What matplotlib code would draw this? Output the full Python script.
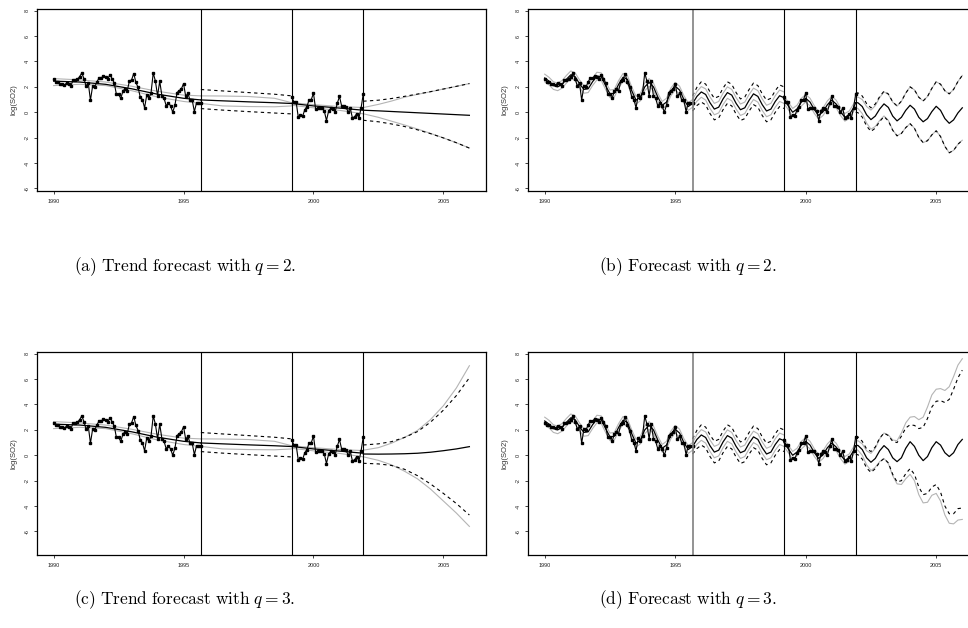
import numpy as np
import matplotlib
matplotlib.use("Agg")
import matplotlib.pyplot as plt

plt.rcParams['font.family'] = ['Liberation Sans', 'DejaVu Sans']
plt.rcParams['mathtext.fontset'] = 'cm'

# observed log(SO2), monthly
obs1_start = 1990.0
obs1 = [2.58, 2.42, 2.35, 2.2, 2.2, 2.15, 2.3, 2.25, 2.1, 2.55,
        2.55, 2.6, 2.8, 3.1, 2.65, 2.05, 2.3, 0.95, 2.05, 2.0,
        2.4, 2.7, 2.7, 2.85, 2.75, 2.65, 2.95, 2.65, 2.3, 1.4,
        1.4, 1.1, 1.65, 1.85, 1.7, 2.45, 2.55, 3.05, 2.35, 1.95,
        1.2, 1.0, 0.35, 1.35, 1.1, 1.55, 3.1, 2.45, 1.3, 2.45,
        1.3, 1.1, 0.5, 0.75, 0.5, 0.0, 0.55, 1.55, 1.7, 1.85,
        2.25, 1.25, 1.5, 0.95, 0.95, 0.05, 0.75, 0.7, 0.7]
obs2_start = 1999 + 2 / 12
obs2 = [1.2, 0.8, 0.8, -0.4, -0.2, -0.3, 0.2, 0.45, 1.0, 1.0,
        1.5, 0.25, 0.3, 0.3, 0.3, 0.1, -0.65, 0.1, 0.3, 0.25,
        0.05, 0.7, 1.25, 0.5, 0.5, 0.45, 0.0, 0.3, -0.45, -0.35,
        -0.1, -0.45, 0.35, 1.45]

breaks = [1995.67, 1999.17, 2001.92]

# ---- trend model (panels a, c) ----
tr1_x = [1990, 1991, 1992, 1993, 1994, 1995, 1995.667]
tr1 = [2.45, 2.38, 2.2, 1.85, 1.42, 1.1, 0.97]
tr1_hi = [2.65, 2.55, 2.38, 2.05, 1.65, 1.35, 1.29]
tr1_lo = [2.1, 2.2, 2.1, 1.7, 1.2, 0.85, 0.7]

trg_x = [1995.667, 1996.5, 1997.5, 1998.5, 1999.167]
trg = [0.97, 0.9, 0.82, 0.75, 0.69]
trg_hi = [1.29, 1.28, 1.24, 1.1, 0.75]
trg_lo = [0.7, 0.5, 0.45, 0.43, 0.5]
trg_dhi = [1.79, 1.68, 1.55, 1.42, 1.29]
trg_dlo = [0.29, 0.17, 0.05, -0.06, -0.13]

tr2_x = [1999.167, 2000, 2001, 2001.917]
tr2 = [0.69, 0.5, 0.33, 0.16]
tr2_hi = [0.75, 0.6, 0.45, 0.37]
tr2_lo = [0.55, 0.35, 0.15, -0.12]

trf_x = [2001.917, 2002.5, 2003, 2003.5, 2004, 2004.5, 2005, 2005.5, 2006]
trf_q2 = [0.16, 0.11, 0.06, 0.01, -0.04, -0.09, -0.14, -0.19, -0.24]
trf_q2_dhi = [0.87, 0.95, 1.08, 1.25, 1.43, 1.62, 1.83, 2.04, 2.26]
trf_q2_dlo = [-0.63, -0.75, -0.92, -1.12, -1.38, -1.68, -2.02, -2.4, -2.82]
trf_q2_hi = [0.37, 0.62, 0.88, 1.18, 1.41, 1.61, 1.83, 2.04, 2.26]
trf_q2_lo = [-0.12, -0.4, -0.7, -1.0, -1.32, -1.66, -2.02, -2.4, -2.82]
trf_q3 = [0.1, 0.09, 0.1, 0.12, 0.16, 0.24, 0.36, 0.5, 0.68]
trf_q3_dhi = [0.81, 0.9, 1.07, 1.4, 1.86, 2.6, 3.55, 4.7, 6.1]
trf_q3_dlo = [-0.63, -0.68, -0.8, -1.1, -1.6, -2.25, -3.0, -3.8, -4.7]
trf_q3_hi = [0.4, 0.6, 0.95, 1.4, 1.95, 2.8, 3.9, 5.3, 7.05]
trf_q3_lo = [-0.12, -0.4, -0.75, -1.25, -1.85, -2.65, -3.6, -4.55, -5.6]

# ---- full model (panels b, d), every two months ----
fit1_x = 1990 + np.arange(35) / 6
fit1 = [2.7, 2.45, 2.1, 2.0, 2.2, 2.6, 2.95, 2.8, 2.25, 1.8, 1.85, 2.4,
        2.85, 2.8, 2.1, 1.45, 1.5, 2.2, 2.75, 2.6, 1.7, 0.95, 1.2, 2.0,
        2.35, 2.0, 1.2, 0.55, 0.8, 1.6, 2.05, 1.75, 1.0, 0.45, 0.7]
fit1_hi = [3.0, 2.75, 2.4, 2.3, 2.5, 2.9, 3.25, 3.1, 2.55, 2.1, 2.15, 2.7,
           3.15, 3.1, 2.4, 1.75, 1.8, 2.5, 3.05, 2.9, 2.0, 1.25, 1.5, 2.3,
           2.65, 2.3, 1.5, 0.85, 1.1, 1.9, 2.35, 2.05, 1.3, 0.75, 1.0]
fit1_lo = [2.4, 2.15, 1.8, 1.7, 1.9, 2.3, 2.65, 2.5, 1.95, 1.5, 1.55, 2.1,
           2.55, 2.5, 1.8, 1.15, 1.2, 1.9, 2.45, 2.3, 1.4, 0.65, 0.9, 1.7,
           2.05, 1.7, 0.9, 0.25, 0.5, 1.3, 1.75, 1.45, 0.7, 0.15, 0.4]

gap_x = 1995 + np.arange(4, 26) / 6
gap = [0.7, 1.25, 1.6, 1.4, 0.75, 0.25, 0.4, 1.05, 1.55, 1.35, 0.7,
       0.2, 0.35, 0.95, 1.45, 1.25, 0.6, 0.1, 0.25, 0.85, 1.3, 1.15]
gap_hi = [1.0, 1.63, 2.02, 1.84, 1.2, 0.7, 0.85, 1.5, 2.0, 1.8, 1.15,
          0.65, 0.8, 1.4, 1.9, 1.7, 1.05, 0.55, 0.7, 1.3, 1.75, 1.6]
gap_lo = [0.4, 0.87, 1.18, 0.96, 0.3, -0.2, -0.05, 0.6, 1.1, 0.9, 0.25,
          -0.25, -0.1, 0.5, 1.0, 0.8, 0.15, -0.35, -0.2, 0.4, 0.85, 0.7]
gap_dhi = [1.3, 1.97, 2.4, 2.22, 1.6, 1.1, 1.25, 1.9, 2.4, 2.2, 1.55,
           1.05, 1.2, 1.8, 2.3, 2.1, 1.45, 0.95, 1.1, 1.7, 2.15, 2.0]
gap_dlo = [0.1, 0.53, 0.8, 0.58, -0.1, -0.6, -0.45, 0.2, 0.7, 0.5, -0.15,
           -0.65, -0.5, 0.1, 0.6, 0.4, -0.25, -0.75, -0.6, 0.0, 0.45, 0.3]

fit2_x = np.append(1999 + np.arange(1, 18) / 6, 2001 + 11 / 12)
fit2 = [1.0, 0.5, 0.0, 0.25, 0.8, 1.1, 0.8, 0.2, -0.25, 0.05, 0.6, 0.95,
        0.65, 0.05, -0.4, -0.2, 0.35, 0.75]
fit2_hi = [1.3, 0.8, 0.3, 0.55, 1.1, 1.4, 1.1, 0.5, 0.05, 0.35, 0.9, 1.25,
           0.95, 0.35, -0.1, 0.1, 0.65, 1.05]
fit2_lo = [0.7, 0.2, -0.3, -0.05, 0.5, 0.8, 0.5, -0.1, -0.55, -0.25, 0.3,
           0.65, 0.35, -0.25, -0.7, -0.5, 0.05, 0.45]

fin_x = np.append(2001 + 11 / 12, 2002 + np.arange(25) / 6)
fin_q2 = [0.75, 0.75, 0.45, -0.2, -0.58, -0.3, 0.25, 0.66, 0.38, -0.3, -0.68,
          -0.4, 0.15, 0.55, 0.25, -0.4, -0.75, -0.5, 0.05, 0.47, 0.15, -0.5,
          -0.87, -0.6, -0.05, 0.35]
fin_q2_dhi = [1.5, 1.53, 1.28, 0.68, 0.35, 0.65, 1.23, 1.66, 1.44, 0.82, 0.5,
              0.87, 1.51, 2.0, 1.76, 1.18, 0.89, 1.24, 1.88, 2.4, 2.21, 1.69,
              1.45, 1.8, 2.42, 2.9]
fin_q2_dlo = [0.0, -0.03, -0.38, -1.08, -1.51, -1.25, -0.73, -0.34, -0.68,
              -1.42, -1.86, -1.67, -1.21, -0.9, -1.26, -1.98, -2.39, -2.24,
              -1.78, -1.46, -1.91, -2.69, -3.19, -3.0, -2.52, -2.2]
fin_q2_hi = [1.15, 1.2, 1.0, 0.45, 0.17, 0.52, 1.15, 1.61, 1.4, 0.8, 0.48,
             0.86, 1.51, 2.0, 1.76, 1.18, 0.89, 1.24, 1.88, 2.4, 2.21, 1.69,
             1.45, 1.8, 2.42, 2.9]
fin_q2_lo = [0.35, 0.3, -0.1, -0.85, -1.33, -1.12, -0.65, -0.29, -0.64, -1.4,
             -1.84, -1.66, -1.21, -0.9, -1.26, -1.98, -2.39, -2.24, -1.78,
             -1.46, -1.91, -2.69, -3.19, -3.0, -2.52, -2.2]

fin_q3 = [0.76, 0.78, 0.45, -0.2, -0.55, -0.25, 0.35, 0.76, 0.45, -0.2, -0.5,
          -0.2, 0.55, 1.07, 0.7, 0.0, -0.42, -0.1, 0.6, 1.07, 0.8, 0.2, -0.1,
          0.2, 0.85, 1.25]
fin_q3_dhi = [1.45, 1.45, 1.1, 0.5, 0.3, 0.65, 1.35, 1.75, 1.55, 1.1, 1.0,
              1.5, 2.15, 2.4, 2.35, 2.1, 2.2, 2.9, 3.8, 4.25, 4.3, 4.15, 4.4,
              5.2, 6.1, 6.7]
fin_q3_dlo = [0.05, 0.05, -0.3, -1.0, -1.35, -1.05, -0.55, -0.25, -0.6, -1.5,
              -2.1, -2.0, -1.45, -1.05, -1.5, -2.5, -3.1, -3.0, -2.5, -2.3,
              -2.9, -4.0, -4.6, -4.6, -4.2, -4.15]
fin_q3_hi = [1.1, 1.15, 0.9, 0.35, 0.15, 0.55, 1.3, 1.75, 1.6, 1.2, 1.15,
             1.75, 2.55, 3.0, 3.05, 2.8, 3.0, 3.8, 4.75, 5.2, 5.25, 5.1, 5.4,
             6.2, 7.1, 7.6]
fin_q3_lo = [0.45, 0.4, 0.0, -0.75, -1.2, -0.95, -0.5, -0.25, -0.65, -1.6,
             -2.25, -2.3, -1.85, -1.5, -2.0, -3.1, -3.75, -3.7, -3.15, -3.0,
             -3.6, -4.7, -5.35, -5.4, -5.1, -5.05]

captions = ['(a)\\ Trend\\ forecast\\ with\\ ', '(b)\\ Forecast\\ with\\ ',
            '(c)\\ Trend\\ forecast\\ with\\ ', '(d)\\ Forecast\\ with\\ ']
qs = [2, 2, 3, 3]

W, H = 968, 628
fig = plt.figure(figsize=(W / 100, H / 100), dpi=100)


def make_ax(l, t, r, b, ylim, yticks):
    ax = fig.add_axes([l / W, 1 - b / H, (r - l) / W, (b - t) / H])
    ax.set_xlim(1989.36, 2006.64)
    ax.set_ylim(*ylim)
    ax.set_xticks([1990, 1995, 2000, 2005])
    ax.set_yticks(yticks)
    ax.set_yticklabels([str(v) for v in yticks], rotation=90, va='center')
    ax.tick_params(labelsize=4, length=2.5, width=0.6, pad=3, colors='#222222')
    for s in ax.spines.values():
        s.set_linewidth(0.9)
    ax.set_ylabel('log(SO2)', fontsize=5.5, labelpad=5, color='#333333')
    return ax


GRAY = '#b4b4b4'
DASH = dict(color='k', lw=0.8, dashes=(3, 3))


def gray(ax, x, *ys):
    for y in ys:
        ax.plot(x, y, color=GRAY, lw=0.8)


def data(ax):
    x1 = obs1_start + np.arange(len(obs1)) / 12
    x2 = obs2_start + np.arange(len(obs2)) / 12
    for x, y in ((x1, obs1), (x2, obs2)):
        ax.plot(x, y, color='k', lw=0.8, marker='s', ms=1.8, mec='k', mfc='k')


def trend_panel(ax, f, fdhi, fdlo, fhi, flo):
    gray(ax, tr1_x, tr1_hi, tr1_lo)
    gray(ax, trg_x, trg_hi, trg_lo)
    gray(ax, tr2_x, tr2_hi, tr2_lo)
    gray(ax, trf_x, fhi, flo)
    ax.plot(trg_x, trg_dhi, **DASH)
    ax.plot(trg_x, trg_dlo, **DASH)
    ax.plot(trf_x, fdhi, **DASH)
    ax.plot(trf_x, fdlo, **DASH)
    for x, y in ((tr1_x, tr1), (trg_x, trg), (tr2_x, tr2), (trf_x, f)):
        ax.plot(x, y, color='k', lw=0.9)
    data(ax)
    for b in breaks:
        ax.axvline(b, color='k', lw=0.8)


def full_panel(ax, f, fdhi, fdlo, fhi, flo):
    gray(ax, fit1_x, fit1_hi, fit1_lo)
    gray(ax, gap_x, gap_hi, gap_lo)
    gray(ax, fit2_x, fit2_hi, fit2_lo)
    gray(ax, fin_x, fhi, flo)
    ax.plot(gap_x, gap_dhi, **DASH)
    ax.plot(gap_x, gap_dlo, **DASH)
    ax.plot(fin_x, fdhi, **DASH)
    ax.plot(fin_x, fdlo, **DASH)
    for x, y in ((fit1_x, fit1), (gap_x, gap), (fit2_x, fit2), (fin_x, f)):
        ax.plot(x, y, color='k', lw=0.9)
    data(ax)
    ax.axvline(breaks[0], color='#808080', lw=1.2)
    ax.axvline(breaks[1], color='k', lw=0.8)
    ax.axvline(breaks[2], color='k', lw=0.8)


top_ticks = [8, 6, 4, 2, 0, -2, -4, -6]
ax_a = make_ax(37, 9, 486, 191, (-6.2, 8.13), top_ticks)
ax_b = make_ax(528, 9, 979, 191, (-6.2, 8.13), top_ticks)
ax_c = make_ax(37, 352, 486, 555, (-7.85, 8.13), top_ticks)
ax_d = make_ax(528, 352, 979, 555, (-7.85, 8.13), top_ticks)

trend_panel(ax_a, trf_q2, trf_q2_dhi, trf_q2_dlo, trf_q2_hi, trf_q2_lo)
full_panel(ax_b, fin_q2, fin_q2_dhi, fin_q2_dlo, fin_q2_hi, fin_q2_lo)
trend_panel(ax_c, trf_q3, trf_q3_dhi, trf_q3_dlo, trf_q3_hi, trf_q3_lo)
full_panel(ax_d, fin_q3, fin_q3_dhi, fin_q3_dlo, fin_q3_hi, fin_q3_lo)

cap_pos = [(185, 267), (688, 267), (185, 600), (688, 600)]
for (cx, cy), c, q in zip(cap_pos, captions, qs):
    fig.text(cx / W, 1 - cy / H, r'$\mathrm{' + c + r'}q = ' + str(q) + r'.$',
             ha='center', va='center', fontsize=12.5)

fig.savefig('out.png', dpi=100)
